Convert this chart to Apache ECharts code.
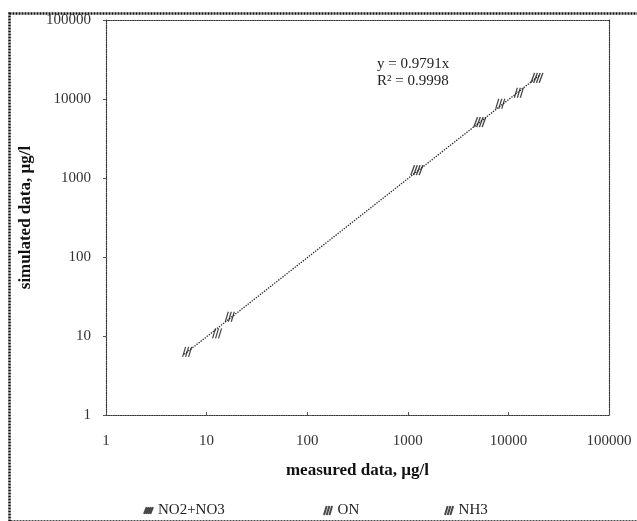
<!DOCTYPE html>
<html>
<head>
<meta charset="utf-8">
<script src="https://cdn.jsdelivr.net/npm/echarts@6/dist/echarts.min.js"></script>
<style>
html,body{margin:0;padding:0;background:#fff;}
#chart{width:637px;height:521px;}
</style>
</head>
<body>
<div id="chart"></div>
<script>
// ---- data ----
const seriesNames = ['NO2+NO3', 'ON', 'NH3'];
const no2no3Measured = [1230, 5200, 19200];
const no2no3Simulated = [1260, 5100, 18500];
const onMeasured = [6.4, 12.7, 17];
const onSimulated = [6.3, 10.8, 17.5];
const nh3Measured = [8300, 12700];
const nh3Simulated = [8700, 12000];
const trendSlope = 0.9791;
const trendRange = [6, 20500];
const equationLines = ['y = 0.9791x', 'R\u00b2 = 0.9998'];
const xTitle = 'measured data, \u00b5g/l';
const yTitle = 'simulated data, \u00b5g/l';
const axisMin = 1, axisMax = 100000;

const pair = (xs, ys) => xs.map((x, i) => [x, ys[i]]);
const hatch = 'path://M0,10 L3,0 M3,10 L6,0 M6,10 L9,0';
const hatch2 = 'path://M0,10 L4,0 M3,10 L7,0 M6,10 L10,0 M9,10 L13,0';
const serif = 'Liberation Serif';
const fmt = v => String(Math.round(v));

const chart = echarts.init(document.getElementById('chart'));
const markerStyle = { color: 'transparent', borderColor: '#1a1a1a', borderWidth: 1.3 };
const legendLefts = [143, 323, 444];

chart.setOption({
  animation: false,
  backgroundColor: '#fff',
  textStyle: { fontFamily: serif },
  grid: { left: 106, right: 28, top: 20, bottom: 106 },
  xAxis: [{
    type: 'log', logBase: 10, min: axisMin, max: axisMax,
    name: xTitle, nameLocation: 'middle', nameGap: 47,
    nameTextStyle: { fontFamily: serif, fontWeight: 'bold', fontSize: 17, color: '#111' },
    axisLine: { lineStyle: { color: '#333', type: 'dotted', width: 1.2 } },
    axisTick: { show: true, inside: true, length: 3, lineStyle: { color: '#555' } },
    splitLine: { show: false },
    axisLabel: { formatter: fmt, margin: 19, fontFamily: serif, fontSize: 15, color: '#333' }
  }, {
    type: 'log', logBase: 10, min: axisMin, max: axisMax, position: 'top',
    axisLine: { show: true, lineStyle: { color: '#333', type: 'dotted', width: 1.2 } },
    axisTick: { show: false }, axisLabel: { show: false }, splitLine: { show: false }
  }],
  yAxis: [{
    type: 'log', logBase: 10, min: axisMin, max: axisMax,
    name: yTitle, nameLocation: 'middle', nameGap: 72, nameRotate: 90,
    nameTextStyle: { fontFamily: serif, fontWeight: 'bold', fontSize: 17, color: '#111' },
    axisLine: { lineStyle: { color: '#333', type: 'dotted', width: 1.2 } },
    axisTick: { show: true, inside: false, length: 3, lineStyle: { color: '#555' } },
    splitLine: { show: false },
    axisLabel: { formatter: fmt, margin: 15, fontFamily: serif, fontSize: 15, color: '#333' }
  }, {
    type: 'log', logBase: 10, min: axisMin, max: axisMax, position: 'right',
    axisLine: { show: true, lineStyle: { color: '#333', type: 'dotted', width: 1.2 } },
    axisTick: { show: false }, axisLabel: { show: false }, splitLine: { show: false }
  }],
  legend: seriesNames.map((n, i) => ({
    bottom: 3, left: legendLefts[i], itemGap: 0, itemWidth: 9, itemHeight: 9,
    data: [n], padding: 0,
    textStyle: { fontFamily: serif, fontSize: 15, color: '#222' }
  })),
  graphic: [
    { type: 'rect', left: 7, top: 11, shape: { width: 640, height: 508 },
      style: { fill: 'none', stroke: '#111', lineWidth: 2.5, lineDash: [2, 1] }, silent: true, z: 100 },
    { type: 'text', left: 377, top: 56,
      style: { text: equationLines.join('\n'), font: '15px "Liberation Serif"', fill: '#222', lineHeight: 17 } }
  ],
  series: [
    { name: 'trend', type: 'line', silent: true, symbol: 'none',
      data: trendRange.map(x => [x, x * trendSlope]),
      lineStyle: { color: '#222', width: 1.3, type: 'dotted' }, z: 1 },
    { name: seriesNames[0], type: 'scatter', symbol: hatch2, symbolSize: [12, 10],
      data: pair(no2no3Measured, no2no3Simulated), itemStyle: markerStyle, z: 3 },
    { name: seriesNames[1], type: 'scatter', symbol: hatch, symbolSize: [9, 10],
      data: pair(onMeasured, onSimulated), itemStyle: markerStyle, z: 3 },
    { name: seriesNames[2], type: 'scatter', symbol: hatch, symbolSize: [9, 10],
      data: pair(nh3Measured, nh3Simulated), itemStyle: markerStyle, z: 3 }
  ]
});
</script>
</body>
</html>
